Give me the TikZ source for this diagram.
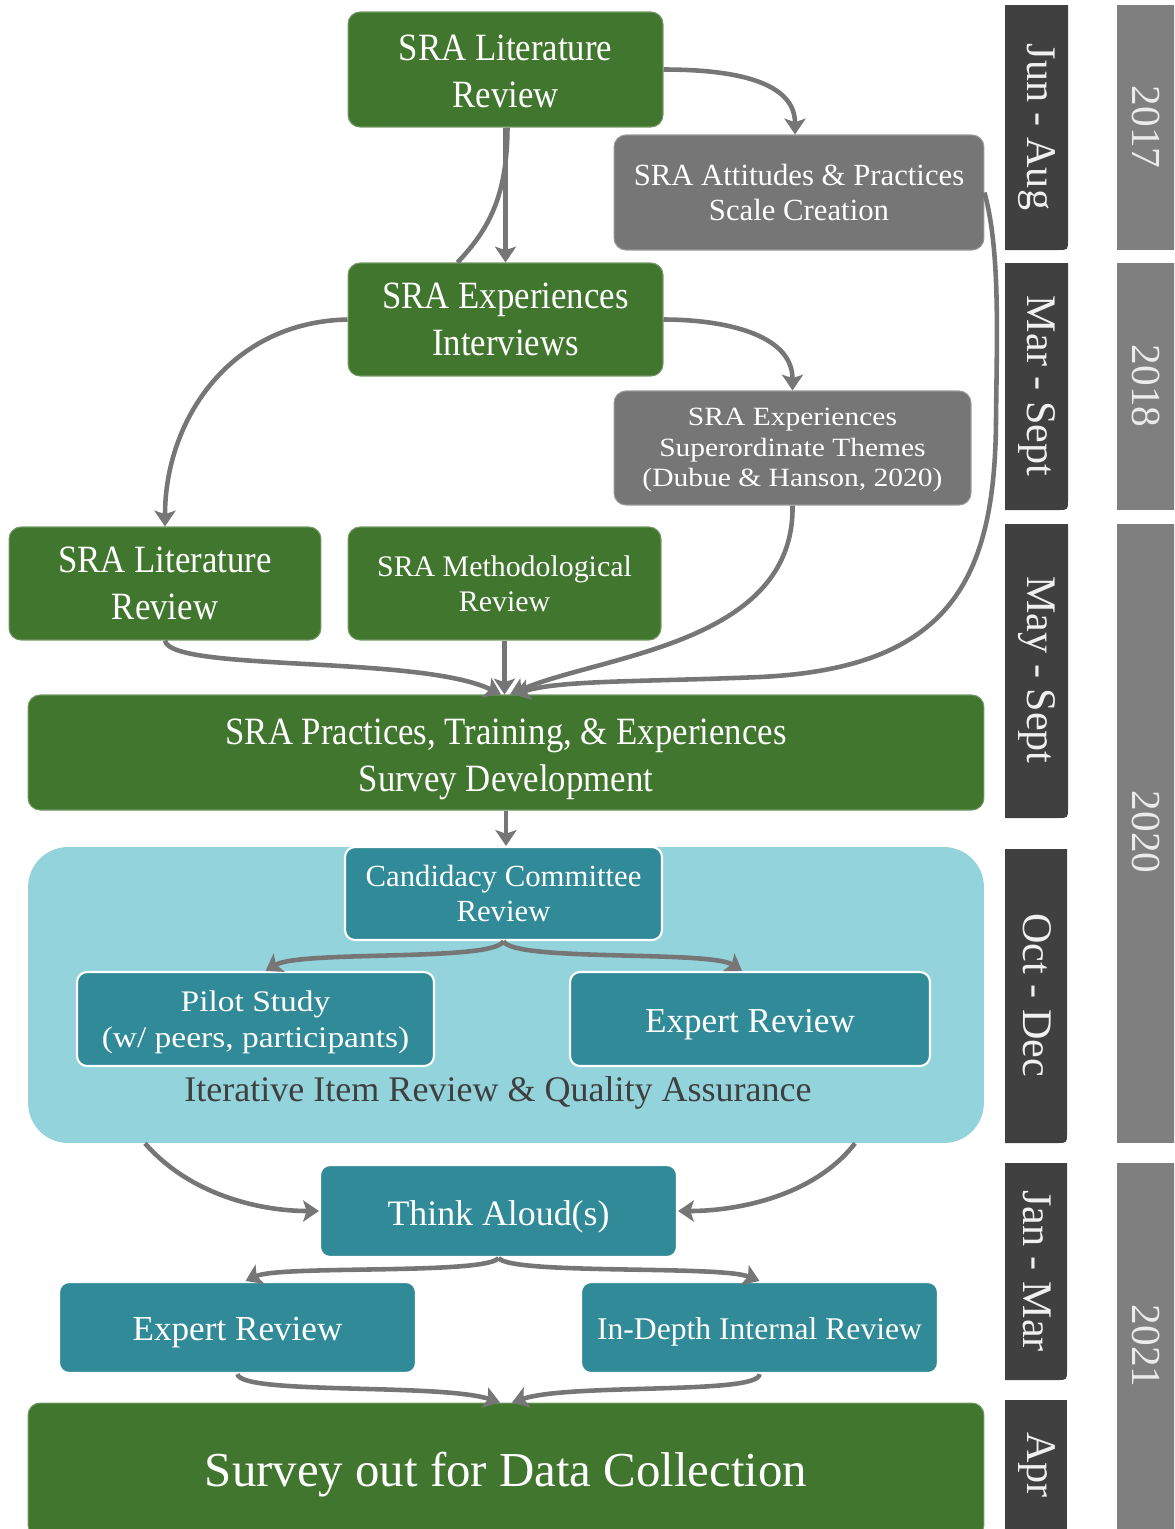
\documentclass[tikz,border=0pt]{standalone}
\usepackage{fontspec}
\setmainfont{Liberation Serif}
\newfontfamily\narrowserif[FakeStretch=0.9]{Liberation Serif}
\newfontfamily\wideserif[FakeStretch=1.12]{Liberation Serif}
\usetikzlibrary{arrows.meta,calc}

\definecolor{leaf}{HTML}{41762E}
\definecolor{slate}{HTML}{767676}
\definecolor{tealfill}{HTML}{318A97}
\definecolor{aqua}{HTML}{93D3DB}
\definecolor{charcoal}{HTML}{404040}
\definecolor{yeargray}{HTML}{7F7F7F}
\definecolor{linkgray}{HTML}{767676}
\definecolor{labelgray}{HTML}{3F3F3F}

% lower a text block inside its node without changing the node's size
\newcommand{\dropby}[2]{\raisebox{-#1}[\height][\depth]{#2}}
\newcommand{\twolines}[2]{\begin{tabular}{@{}c@{}}#1\\#2\end{tabular}}

\tikzset{
  box/.style={rounded corners=0.24cm, inner sep=0pt, align=center, text=white},
  greenbox/.style={box, fill=leaf, draw=leaf!75!white, line width=0.6pt},
  graybox/.style={box, fill=slate, draw=slate!75!white, line width=0.6pt},
  tealbox/.style={box, fill=tealfill, draw=white, line width=1.2pt, rounded corners=0.2cm},
  bigtext/.style={font=\narrowserif\fontsize{22}{26.7}\selectfont},
  link/.style={draw=linkgray, line width=2.6pt,
    -{Stealth[length=9pt,width=12pt,inset=2pt]}},
  plainlink/.style={draw=linkgray, line width=2.6pt},
  periodtext/.style={rotate=-90, text=white!94!black, font=\fontsize{24}{24}\selectfont},
  yeartext/.style={rotate=-90, text=white!92!black, font=\fontsize{23.5}{24}\selectfont},
}

\begin{document}
\begin{tikzpicture}[x=0.02cm, y=-0.02cm]
\useasboundingbox (0,0) rectangle (1174,1529);
\clip (0,0) rectangle (1174,1529);

% ---- timeline: periods ----
\fill[charcoal] (1005,5) -- (1068,5) -- (1068,240) .. controls (1068,250) .. (1058,250) -- (1005,250) -- cycle;
\fill[charcoal] (1005,263) -- (1068,263) -- (1068,500) .. controls (1068,510) .. (1058,510) -- (1005,510) -- cycle;
\fill[charcoal] (1005,524) -- (1068,524) -- (1068,808) .. controls (1068,818) .. (1058,818) -- (1005,818) -- cycle;
\fill[charcoal] (1005,849) -- (1067,849) -- (1067,1133) .. controls (1067,1143) .. (1057,1143) -- (1005,1143) -- cycle;
\fill[charcoal] (1005,1163) -- (1067,1163) -- (1067,1370) .. controls (1067,1380) .. (1057,1380) -- (1005,1380) -- cycle;
\fill[charcoal] (1005,1400) -- (1067,1400) -- (1067,1545) -- (1005,1545) -- cycle;
\node[periodtext] (pjun) at (1037,127) {Jun - Aug};
\node[periodtext] (pmar) at (1037,386) {Mar - Sept};
\node[periodtext] (pmay) at (1037,670) {May - Sept};
\node[periodtext] (poct) at (1037,995) {Oct - Dec};
\node[periodtext] (pjan) at (1037,1271) {Jan - Mar};
\node[periodtext] (papr) at (1037,1465) {Apr};

% ---- timeline: years ----
\fill[yeargray] (1117,5) rectangle (1180,250);
\fill[yeargray] (1117,263) rectangle (1180,510);
\fill[yeargray] (1117,524) rectangle (1180,1143);
\fill[yeargray] (1117,1163) rectangle (1180,1545);
\node[yeartext] (y17) at (1146,127) {2017};
\node[yeartext] (y18) at (1146,386) {2018};
\node[yeartext] (y20) at (1146,832) {2020};
\node[yeartext] (y21) at (1146,1346) {2021};

% ---- development stage ----
\node[greenbox, bigtext, minimum width=6.3cm, minimum height=2.3cm] (lit1) at (505.5,69.5)
  {\dropby{2.8pt}{\twolines{SRA Literature}{Review}}};
\node[graybox, font=\fontsize{17.5}{19.5}\selectfont, minimum width=7.4cm, minimum height=2.3cm] (att) at (799,192.5)
  {SRA Attitudes \& Practices\\Scale Creation};
\node[greenbox, bigtext, minimum width=6.3cm, minimum height=2.26cm] (intv) at (505.5,319.5)
  {SRA Experiences\\Interviews};
\node[graybox, font=\wideserif\fontsize{15}{17.3}\selectfont, minimum width=7.14cm, minimum height=2.28cm] (thm) at (792.5,448)
  {\dropby{1.3pt}{\begin{tabular}{@{}c@{}}SRA Experiences\\Superordinate Themes\\(Dubue \& Hanson, 2020)\end{tabular}}};
\node[greenbox, bigtext, minimum width=6.24cm, minimum height=2.26cm] (lit2) at (165,583.5)
  {SRA Literature\\Review};
\node[greenbox, font=\fontsize{17}{20}\selectfont, minimum width=6.26cm, minimum height=2.26cm] (meth) at (504.5,583.5)
  {SRA Methodological\\Review};
\node[greenbox, bigtext, minimum width=19.12cm, minimum height=2.3cm] (dev) at (506,752.5)
  {\dropby{3.4pt}{\twolines{SRA Practices, Training, \& Experiences}{Survey Development}}};

% ---- review stage ----
\node[fill=aqua, rounded corners=0.8cm, minimum width=19.12cm, minimum height=5.92cm, inner sep=0pt] (cont) at (506,995) {};
\node[tealbox, font=\fontsize{17.5}{20}\selectfont, minimum width=6.34cm, minimum height=1.86cm] (cand) at (503.5,893.5)
  {Candidacy Committee\\Review};
\node[tealbox, font=\wideserif\fontsize{17}{20.5}\selectfont, minimum width=7.14cm, minimum height=1.88cm] (pilot) at (255.5,1019)
  {\dropby{1.7pt}{\twolines{Pilot Study}{(w/ peers, participants)}}};
\node[tealbox, font=\fontsize{20}{24}\selectfont, minimum width=7.2cm, minimum height=1.88cm] (exp1) at (750,1019)
  {\dropby{3.4pt}{Expert Review}};
\node[text=labelgray, font=\fontsize{20.5}{24}\selectfont, inner sep=0pt] (iter) at (498,1093)
  {Iterative Item Review \& Quality Assurance};

\node[tealbox, font=\fontsize{20.4}{24}\selectfont, minimum width=7.14cm, minimum height=1.84cm] (think) at (498.5,1211)
  {\dropby{3.4pt}{Think Aloud(s)}};
\node[tealbox, font=\fontsize{20}{24}\selectfont, minimum width=7.14cm, minimum height=1.82cm] (exp2) at (237.5,1327.5)
  {\dropby{2.8pt}{Expert Review}};
\node[tealbox, font=\fontsize{18}{22}\selectfont, minimum width=7.14cm, minimum height=1.82cm] (indep) at (759.5,1327.5)
  {\dropby{2.3pt}{In-Depth Internal Review}};

\node[greenbox, font=\fontsize{27.8}{32}\selectfont, minimum width=19.12cm, minimum height=2.68cm] (out) at (506,1470)
  {\dropby{2.8pt}{Survey out for Data Collection}};

% ---- connectors ----
\draw[link] (lit1.east) to[out=0,in=90] ($(att.north)+(-4,0)$);
\draw[link] (lit1.south) -- (intv.north);
\draw[plainlink] ($(lit1.south)+(2,0)$) .. controls (507,195) and (490,228) .. ($(intv.north)+(-48,0)$);
\draw[link] (intv.east) to[out=0,in=90] (thm.north);
\draw[link] (intv.west) .. controls (230,322) and (165,420) .. (lit2.north);

\draw[link] (lit2.south) .. controls (170,672) and (420,655) .. ($(dev.north)+(-5,0)$);
\draw[link] (meth.south) -- (meth.south |- dev.north);
\draw[link] (thm.south) .. controls (795,645) and (600,655) .. ($(dev.north)+(4,0)$);
\draw[link] (att.east) .. controls (1000,250) and (997,330) .. (996,420)
  .. controls (995,580) and (950,668) .. (760,677)
  .. controls (640,682) and (560,680) .. ($(dev.north)+(8,0)$);

\draw[link] (dev.south) -- (dev.south |- cand.north);
\draw[link] (cand.south) .. controls (495,962) and (300,950) .. ($(pilot.north)+(10,0)$);
\draw[link] (cand.south) .. controls (512,962) and (710,950) .. ($(exp1.north)+(-8,0)$);

\draw[link] ($(cont.south)+(-361,0)$) .. controls (190,1195) and (260,1211) .. (think.west);
\draw[link] ($(cont.south)+(349,0)$) .. controls (815,1195) and (740,1211) .. (think.east);

\draw[link] (think.south) .. controls (485,1275) and (280,1265) .. ($(exp2.north)+(8,0)$);
\draw[link] (think.south) .. controls (512,1275) and (720,1265) .. (indep.north);

\draw[link] (exp2.south) .. controls (240,1395) and (440,1383) .. ($(out.north)+(-6,0)$);
\draw[link] (indep.south) .. controls (760,1395) and (570,1383) .. ($(out.north)+(6,0)$);
\end{tikzpicture}
\end{document}
